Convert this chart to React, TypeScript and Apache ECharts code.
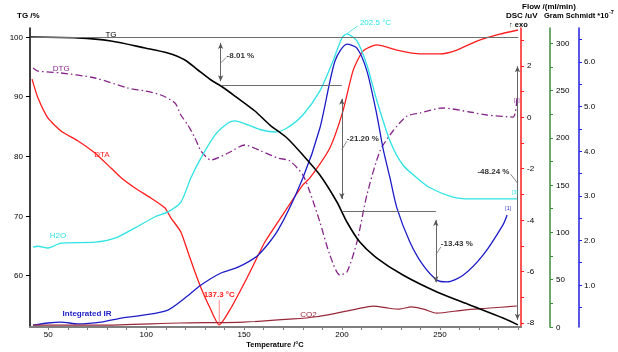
import React, { useEffect, useRef } from "react";
import * as echarts from "echarts";

// ---- axis ranges / ticks ----
const X_MIN = 40.66;
const X_MAX = 291.4;
const xLabels = [50, 100, 150, 200, 250];
const xTicks = [50, 60, 70, 80, 90, 100, 110, 120, 130, 140, 150, 160, 170, 180, 190, 200, 210, 220, 230, 240, 250, 260, 270, 280, 290];
const tgLabels = [60, 70, 80, 90, 100];
const dscLabels = [-8, -6, -4, -2, 0, 2];
const dscTicks = [-8, -7, -6, -5, -4, -3, -2, -1, 0, 1, 2, 3];
const flowLabels = [0, 50, 100, 150, 200, 250, 300];
const flowTicks = [0, 25, 50, 75, 100, 125, 150, 175, 200, 225, 250, 275, 300];
const gsLabels = [1, 2, 3, 4, 5, 6];
const gsTicks = [0.5, 1, 1.5, 2, 2.5, 3, 3.5, 4, 4.5, 5, 5.5, 6, 6.5];

// ---- TG (%) ----
const tgT = [41, 65, 82, 99.4, 111, 119.8, 126.4, 133.1, 138.2, 145.3, 155.5, 163.2, 171.9, 180, 188.7, 197.4, 202.5, 209.1, 217.8, 231.1, 248.5, 265.3, 282.2, 289.8];
const tgV = [100, 99.85, 99.33, 98.16, 97.32, 96.15, 94.47, 92.79, 91.79, 90.11, 87.6, 85.25, 83.07, 80.22, 76.87, 72.35, 69.0, 65.64, 62.96, 60.11, 57.27, 55.09, 52.91, 51.76];

// ---- DTG (plotted on TG scale) ----
const dtgT = [42.2, 44.7, 56.5, 73.9, 90.7, 99.4, 107.5, 114.7, 117.7, 121.3, 124.9, 128, 133.1, 141.8, 150.4, 158.6, 167.3, 173.4, 180, 183.6, 188.7, 193.8, 198.9, 202.5, 207.6, 212.7, 219.4, 226, 233.2, 239.8, 251.5, 265.3, 274, 287.3, 289.3];
const dtgV = [94.8, 94.3, 93.97, 93.13, 91.45, 90.95, 90.28, 88.94, 86.93, 85.25, 83.07, 80.9, 79.39, 80.56, 81.9, 80.9, 79.72, 79.22, 76.87, 74.02, 69.0, 63.47, 60.11, 60.62, 65.64, 73.52, 80.9, 84.25, 86.76, 87.26, 88.1, 87.43, 86.93, 86.59, 89.78];

// ---- DTA / DSC (uV) ----
const dtaT = [41.7, 44.7, 49.8, 56.5, 65.2, 73.8, 82, 87.2, 94.3, 102.4, 109.6, 112.6, 117.7, 121.3, 124.9, 128, 132.6, 137.3, 143.3, 150.4, 155.5, 160.6, 167.3, 180, 183.6, 193.8, 200.5, 205.6, 210.7, 217.8, 228, 239.8, 250, 258.7, 268.9, 279.1, 289.8];
const dtaV = [1.49, 0.76, -0.02, -0.53, -0.92, -1.39, -1.97, -2.35, -2.75, -3.14, -3.53, -3.91, -4.46, -5.24, -6.02, -6.64, -7.42, -8.08, -7.42, -6.41, -5.63, -4.85, -4.07, -2.63, -2.36, -1.19, 0.25, 1.81, 2.58, 2.82, 2.62, 2.47, 2.47, 2.62, 2.97, 3.21, 3.40];

// ---- H2O (Gram Schmidt scale) ----
const h2oT = [42.2, 44.7, 49.8, 56.5, 73.9, 84.1, 94.3, 104.5, 111.1, 117.7, 122.8, 128, 135.1, 141.8, 145.3, 152, 158.6, 165.8, 171.9, 180, 188.7, 195.4, 200, 202.5, 207.6, 212.7, 217.8, 224.5, 231.1, 238.3, 244.9, 256.7, 265.3, 289.3];
const h2oV = [1.85, 1.87, 1.83, 1.94, 1.96, 2.05, 2.28, 2.53, 2.64, 2.86, 3.4, 3.85, 4.36, 4.63, 4.68, 4.59, 4.48, 4.43, 4.52, 4.81, 5.35, 6.02, 6.54, 6.63, 6.47, 5.93, 5.13, 4.23, 3.69, 3.4, 3.18, 2.97, 2.93, 2.93];

// ---- Integrated IR (Gram Schmidt) ----
const irT = [42.2, 49.8, 56.5, 65.2, 76.9, 87.2, 99.4, 111.1, 119.8, 128, 138.2, 146.9, 157.1, 167.3, 180, 188.7, 196.4, 202.5, 207.6, 212.7, 217.8, 220.9, 224.5, 228, 234.7, 241.3, 248.5, 253.6, 261.8, 272, 282.2, 284.3];
const irV = [0.1, 0.15, 0.17, 0.13, 0.17, 0.26, 0.33, 0.44, 0.71, 1.0, 1.27, 1.4, 1.67, 2.23, 3.4, 4.52, 6.02, 6.4, 6.31, 5.8, 4.81, 4.07, 3.4, 2.73, 1.96, 1.45, 1.11, 1.07, 1.22, 1.67, 2.35, 2.57];

// ---- CO2 (Gram Schmidt scale) ----
const co2T = [42.2, 76.5, 117.3, 149.7, 175.2, 186.9, 197.1, 207.3, 215.9, 224.1, 229.2, 235.4, 241.6, 248.3, 262, 273.8, 289.3];
const co2V = [0.1, 0.1, 0.15, 0.17, 0.24, 0.29, 0.37, 0.46, 0.53, 0.48, 0.46, 0.51, 0.46, 0.37, 0.44, 0.48, 0.53];

// ---- TG step annotations ----
const stepStart = [41, 138.2, 199.9];
const stepEnd = [290, 199.9, 247.9];
const stepLevel = [100, 91.99, 70.79];
const arrowT = [138, 199.9, 247.9, 289.6];
const arrowTop = [99.0, 89.66, 69.33, 95.1];
const arrowBottom = [92.6, 72.85, 58.89, 52.6];
const stepTexts = ["-8.01 %", "-21.20 %", "-13.43 %", "-48.24 %"];
const stepAnchor = [95.64, 81.11, 63.48, 75.53];

const FONT = '"Liberation Sans", Arial, sans-serif';
const C_DTG = "#86268a";
const C_DTA = "#ff1c1c";
const C_H2O = "#2ee3e3";
const C_IR = "#1c1cc8";
const C_CO2 = "#982838";
const C_FLOW = "#3c8c3c";
const C_ANN = "#6e6e6e";

const zip = (xs: number[], ys: number[]) => xs.map((x, i) => [x, ys[i]]);

export default function App() {
  const ref = useRef<HTMLDivElement>(null);

  useEffect(() => {
    if (!ref.current) return;
    const chart = echarts.init(ref.current, null, { renderer: "svg" });

    const yBase = (color: string, lw: number) => ({
      type: "value" as const,
      axisLine: { show: true, onZero: false, lineStyle: { color, width: lw } },
      splitLine: { show: false },
    });

    const lineSeries = (name: string, data: number[][], yAxisIndex: number, color: string, width: number, extra: any = {}) => ({
      name,
      type: "line",
      data,
      yAxisIndex,
      symbol: "none",
      smooth: 0.25,
      lineStyle: { color, width },
      z: 3,
      ...extra,
    });

    chart.setOption({
      animation: false,
      grid: { left: 30, right: 97, top: 28, bottom: 25 },
      xAxis: {
        type: "value",
        min: X_MIN,
        max: X_MAX,
        axisLine: { show: true, onZero: false, lineStyle: { color: "#7f7f7f", width: 2 } },
        axisTick: { show: true, customValues: xTicks, length: 3, lineStyle: { color: "#7f7f7f" } },
        axisLabel: { customValues: xLabels, color: "#000", fontSize: 8, fontFamily: FONT, margin: 3 },
        splitLine: { show: false },
      },
      yAxis: [
        {
          ...yBase("#000", 1.5),
          position: "left",
          min: 51.4,
          max: 101.51,
          axisTick: { show: true, customValues: tgLabels, length: 4, lineStyle: { color: "#000" } },
          axisLabel: { customValues: tgLabels, color: "#000", fontSize: 8, fontFamily: FONT, margin: 7 },
        },
        {
          ...yBase(C_DTA, 1.5),
          position: "right",
          offset: 0,
          min: -8.16,
          max: 3.478,
          axisTick: { show: true, customValues: dscTicks, length: 3, lineStyle: { color: C_DTA } },
          axisLabel: { customValues: dscLabels, color: "#000", fontSize: 8, fontFamily: FONT, margin: 6 },
        },
        {
          ...yBase(C_FLOW, 1.5),
          position: "right",
          offset: 29,
          min: 0,
          max: 316,
          axisTick: { show: true, customValues: flowTicks, length: 3, lineStyle: { color: C_FLOW } },
          axisLabel: { customValues: flowLabels, color: "#000", fontSize: 8, fontFamily: FONT, margin: 6 },
        },
        {
          ...yBase("#2020e0", 1.5),
          position: "right",
          offset: 58,
          min: 0.06,
          max: 6.76,
          axisTick: { show: true, customValues: gsTicks, length: 3, lineStyle: { color: "#2020e0" } },
          axisLabel: {
            customValues: gsLabels,
            color: "#000",
            fontSize: 8,
            fontFamily: FONT,
            margin: 5,
            formatter: (v: number) => v.toFixed(1),
          },
        },
      ],
      series: [
        lineSeries("TG", zip(tgT, tgV), 0, "#000", 1.6, {
          z: 4,
          markLine: {
            silent: true,
            symbol: "none",
            animation: false,
            label: { show: false },
            lineStyle: { color: C_ANN, width: 1, type: "solid" },
            data: stepStart.map((t, i) => [
              { coord: [t, stepLevel[i]] },
              { coord: [stepEnd[i], stepLevel[i]] },
            ]),
          },
        }),
        lineSeries("DTG", zip(dtgT, dtgV), 0, C_DTG, 1.3, {
          lineStyle: { color: C_DTG, width: 1.3, type: [7, 3, 1.5, 3] },
          markLine: {
            silent: true,
            symbol: ["arrow", "arrow"],
            symbolSize: [4, 6],
            animation: false,
            label: { show: false },
            lineStyle: { color: "#555", width: 0.9, type: "solid" },
            data: arrowT.map((t, i) => [
              { coord: [t, arrowTop[i]] },
              { coord: [t, arrowBottom[i]] },
            ]),
          },
        }),
        lineSeries("DTA", zip(dtaT, dtaV), 1, C_DTA, 1.3, { smooth: 0.2 }),
        lineSeries("H2O", zip(h2oT, h2oV), 3, C_H2O, 1.3),
        lineSeries("Integrated IR", zip(irT, irV), 3, C_IR, 1.3),
        lineSeries("CO2", zip(co2T, co2V), 3, C_CO2, 1.2),
      ],
    });

    const px = (si: number, x: number, y: number) => chart.convertToPixel({ seriesIndex: si }, [x, y]) as number[];

    const txt = (x: number, y: number, text: string, fill: string, opts: any = {}) => ({
      type: "text",
      x,
      y,
      silent: true,
      z: 20,
      style: {
        text,
        fill,
        font: `${opts.weight || "normal"} ${opts.size || 8}px ${FONT}`,
        textAlign: opts.align || "left",
        align: opts.align || "left",
        textVerticalAlign: "middle",
        verticalAlign: "middle",
      },
    });
    const seg = (x1: number, y1: number, x2: number, y2: number, stroke: string) => ({
      type: "line",
      silent: true,
      z: 19,
      shape: { x1, y1, x2, y2 },
      style: { stroke, lineWidth: 0.8 },
    });

    const g: any[] = [];

    // axis titles
    g.push(txt(17, 15, "TG /%", "#000", { weight: "bold" }));
    g.push(txt(549, 6, "Flow /(ml/min)", "#000", { weight: "bold", align: "center" }));
    g.push(txt(506, 15, "DSC /uV", "#000", { weight: "bold" }));
    g.push(txt(544, 15, "Gram Schmidt *10", "#000", { weight: "bold", size: 7.5 }));
    g.push(txt(609, 12, "-7", "#000", { weight: "bold", size: 5.5 }));
    g.push(txt(509, 24, "↑ exo", "#000", { weight: "bold", size: 7.5 }));
    g.push(txt(275, 344, "Temperature /°C", "#000", { weight: "bold", align: "center", size: 7.5 }));

    // step labels with leaders
    const leaderEnd = [[5.5, -5.5], [5, -8.5], [5, -8], [-7, -9]];
    const textOff = [[6, -8], [5, -11], [5, -11], [-8, -12]];
    stepTexts.forEach((s, i) => {
      const [ax, ay] = px(0, arrowT[i], stepAnchor[i]);
      g.push(seg(ax, ay, ax + leaderEnd[i][0], ay + leaderEnd[i][1], C_ANN));
      g.push(
        txt(ax + textOff[i][0], ay + textOff[i][1], s, "#333", {
          weight: "bold",
          align: textOff[i][0] < 0 ? "right" : "left",
        })
      );
    });

    // peak labels
    const [hx, hy] = px(3, 202.5, 6.63);
    g.push(seg(hx, hy, hx + 11, hy - 8, C_H2O));
    g.push(txt(hx + 13, hy - 11, "202.5 °C", C_H2O, {}));
    const [dx, dy] = px(2, 137.3, -8.08);
    g.push(seg(dx, dy, dx, dy - 25, "#ff6a6a"));
    g.push(txt(dx, dy - 30, "137.3 °C", C_DTA, { weight: "bold", align: "center" }));

    // curve names
    let p = px(0, 82.0, 100.39);
    g.push(txt(p[0], p[1], "TG", "#000", { align: "center" }));
    p = px(1, 56.6, 94.69);
    g.push(txt(p[0], p[1], "DTG", C_DTG, { align: "center" }));
    p = px(2, 77.4, -1.45);
    g.push(txt(p[0], p[1], "DTA", C_DTA, { align: "center" }));
    p = px(3, 54.95, 2.12);
    g.push(txt(p[0], p[1], "H2O", C_H2O, { align: "center" }));
    p = px(4, 69.8, 0.37);
    g.push(txt(p[0], p[1], "Integrated IR", C_IR, { align: "center", weight: "bold" }));
    p = px(5, 182.9, 0.33);
    g.push(txt(p[0], p[1], "CO2", C_CO2, { align: "center" }));

    // curve end markers
    p = px(1, dtgT[dtgT.length - 1], dtgV[dtgV.length - 1]);
    g.push(txt(p[0], p[1] + 2, "[2]", C_DTG, { align: "center", size: 5 }));
    p = px(3, h2oT[h2oT.length - 1], h2oV[h2oV.length - 1]);
    g.push(txt(p[0] - 2, p[1] - 7, "[3]", C_H2O, { align: "center", size: 5 }));
    p = px(4, irT[irT.length - 1], irV[irV.length - 1]);
    g.push(txt(p[0] + 1, p[1] - 7, "[1]", C_IR, { align: "center", size: 5 }));

    chart.setOption({ graphic: g });

    return () => chart.dispose();
  }, []);

  return <div ref={ref} style={{ position: "fixed", left: 0, top: 0, width: 618, height: 352 }} />;
}
